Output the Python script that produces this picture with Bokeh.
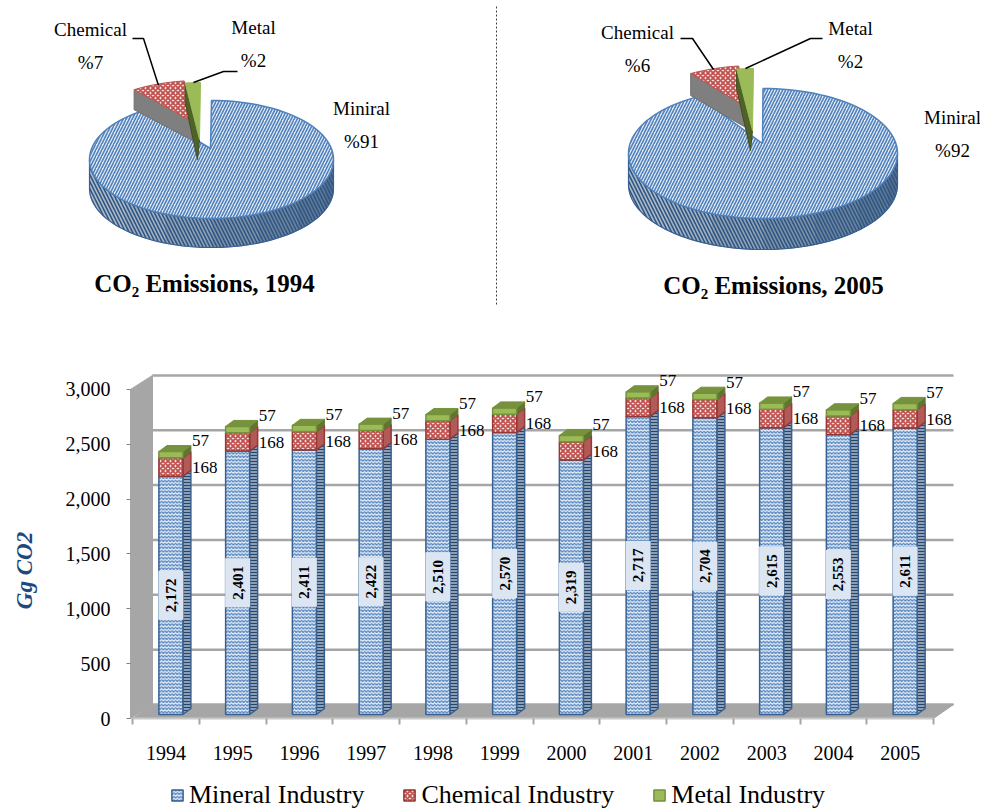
import numpy as np
from bokeh.plotting import figure
from bokeh.layouts import column, row
from bokeh.embed import file_html
from bokeh.resources import INLINE
from bokeh.core.properties import value
from bokeh.models import (Range1d, FixedTicker, NumeralTickFormatter, Legend, LegendItem, Label)

YEARS = [1994, 1995, 1996, 1997, 1998, 1999, 2000, 2001, 2002, 2003, 2004, 2005]
MINERAL = [2172, 2401, 2411, 2422, 2510, 2570, 2319, 2717, 2704, 2615, 2553, 2611]
CHEMICAL = [168, 168, 168, 168, 168, 168, 168, 168, 168, 168, 168, 168]
METAL = [57, 57, 57, 57, 57, 57, 57, 57, 57, 57, 57, 57]
Y_TICKS = [0, 500, 1000, 1500, 2000, 2500, 3000]
SERIES = ["Mineral Industry", "Chemical Industry", "Metal Industry"]
PIE_NAMES = ["Miniral", "Chemical", "Metal"]
PIE_1994 = [91, 7, 2]
PIE_2005 = [92, 6, 2]
TITLE_1994 = "CO\u2082 Emissions, 1994"
TITLE_2005 = "CO\u2082 Emissions, 2005"

SERIF = value("Liberation Serif")
BLUE_FILL, BLUE_HATCH, BLUE_LINE = "#e3ecf6", "#4f81bd", "#376092"
RED_FILL, RED_HATCH, RED_LINE = "#f6e3e2", "#c0504d", "#953735"
GREEN_FILL, GREEN_TOP, GREEN_SIDE = "#9bbb59", "#76923c", "#5f7530"

# ---------- pies ----------
top = figure(width=980, height=318, x_range=Range1d(0, 980), y_range=Range1d(318, 0),
             output_backend="svg", toolbar_location=None, min_border=0)
top.axis.visible = False
top.grid.visible = False
top.outline_line_color = None


def rim(g, t0, t1, n=60):
    t = np.radians(np.linspace(t0, t1, n))
    return g["cx"] + g["a"] * np.sin(t), g["cy"] - g["b"] * np.cos(t)


def poly(xs, ys, **kw):
    top.patch(list(xs), list(ys), **kw)


def pie(shares, g):
    a0 = shares[0] * 3.6
    a1 = a0 + shares[1] * 3.6
    a2 = a1 + shares[2] * 3.6
    # side band of the main slice, shaded from right (dark) to left (light)
    shades = ["#55708f", "#5f7996", "#6c849e", "#7d92a9", "#90a2b6", "#a3b2c2", "#aebbc9", "#aebbc9"]
    edges = np.linspace(90, 270, len(shades) + 1)
    for i, col in enumerate(shades):
        x, y = rim(g, edges[i], edges[i + 1], 16)
        poly(np.r_[x, x[::-1]], np.r_[y, y[::-1] + g["d"]], fill_color=col, line_color=col)
    x, y = rim(g, 90, 270)
    poly(np.r_[x, x[::-1]], np.r_[y, y[::-1] + g["d"]], fill_alpha=0, line_color=BLUE_LINE, line_width=1.2,
         hatch_pattern="left_diagonal_line", hatch_color="#2f5583", hatch_scale=7, hatch_weight=1.6)
    # main slice
    x, y = rim(g, 0, a0, 120)
    poly(np.r_[g["ax"], x], np.r_[g["ay"], y], fill_color=BLUE_FILL, line_color=BLUE_HATCH, line_width=1.5,
         hatch_pattern="right_diagonal_line", hatch_color=BLUE_HATCH, hatch_scale=6, hatch_weight=1.6)
    # chemical slice
    c = g["chem"]
    x, y = rim(c, a0, a1, 20)
    poly([x[0], x[0], c["ax"] + 2, c["ax"]], [y[0], y[0] + c["d"], c["ay"] + c["d"], c["ay"]],
         fill_color="#7f7f7f", line_color="#6f6f6f")
    poly(np.r_[c["ax"], x], np.r_[c["ay"], y], fill_color=RED_FILL, line_color=RED_HATCH,
         hatch_pattern="diagonal_cross", hatch_color=RED_HATCH, hatch_scale=5, hatch_weight=1.8)
    # metal slice
    m = g["metal"]
    x, y = rim(m, a1, a2, 8)
    poly([x[0], x[0], m["ax"] - 2, m["ax"]], [y[0], y[0] + m["d"], m["ay"] + m["d"], m["ay"]],
         fill_color="#4f6228", line_color="#3f4f20")
    poly(np.r_[m["ax"], x], np.r_[m["ay"], y], fill_color=GREEN_FILL, line_color=GREEN_FILL)


G94 = dict(cx=211, cy=159, a=122, b=59, d=29, ax=210, ay=148,
           chem=dict(cx=199, cy=139, a=122, b=59, d=20, ax=190, ay=120),
           metal=dict(cx=200, cy=141, a=122, b=59, d=20, ax=199, ay=139))
G05 = dict(cx=762.5, cy=153, a=134.5, b=65, d=31, ax=762, ay=143,
           chem=dict(cx=755, cy=130, a=134.5, b=65, d=22, ax=745, ay=106),
           metal=dict(cx=753, cy=133, a=134.5, b=65, d=20, ax=752, ay=130))
pie(PIE_1994, G94)
pie(PIE_2005, G05)

for xs, ys in [([132, 143, 158], [38, 38, 85]), ([237, 223, 193], [71, 71, 82]),
               ([680, 692, 713], [38, 38, 69]), ([822, 810, 745], [38, 38, 68])]:
    top.line(xs, ys, line_color="#000000", line_width=1.5)

top.segment([496], [6], [496], [306], line_color="#404040", line_width=1, line_dash="2 2")


def pie_labels(shares, xs, ys):
    for name, v, x, y in zip(PIE_NAMES, shares, xs, ys):
        top.text([x], [y], text=[name], text_font=SERIF, text_font_size="19px", text_align="center",
                 text_baseline="middle", text_color="#000000")
        top.text([x], [y + 33], text=[f"%{v}"], text_font=SERIF, text_font_size="19px", text_align="center",
                 text_baseline="middle", text_color="#000000")


pie_labels(PIE_1994, [361, 90, 253], [108, 29, 27])
pie_labels(PIE_2005, [952, 637, 850], [117, 32, 28])
for t, x, y in [(TITLE_1994, 204, 283), (TITLE_2005, 773, 285)]:
    top.text([x], [y], text=[t], text_font=SERIF, text_font_size="25px", text_font_style="bold",
             text_align="center", text_baseline="middle", text_color="#000000")

# ---------- stacked 3-D bars ----------
# the frame fills the whole figure; axes sit inside it through fixed_location
PX_X, PX_Y = 66.75, 0.1097
xl, xr = YEARS[0] - 0.5, YEARS[-1] + 0.5
x_start = xl - 132 / PX_X
y_end = 400 / PX_Y
p = figure(width=980, height=492, x_range=Range1d(x_start, x_start + 980 / PX_X),
           y_range=Range1d(-92 / PX_Y, y_end),
           output_backend="svg", toolbar_location=None, min_border=0)
p.grid.visible = False
p.outline_line_color = None

WX, WY = 20 / PX_X, 14 / PX_Y     # depth of the chart box
DX, DY = 8 / PX_X, 6 / PX_Y       # depth of a bar
W = 12 / PX_X                     # half width of a bar
BASE, SHIFT = 4 / PX_Y, 5 / PX_X
ymax = Y_TICKS[-1]
wall_x = xl - 2 / PX_X

p.patch([wall_x, xl + WX, xl + WX, wall_x], [0, WY, ymax + WY, ymax], fill_color="#a6a6a6", line_color="#a6a6a6")
p.segment([xl + WX] * 7, [t + WY for t in Y_TICKS], [xr + WX] * 7, [t + WY for t in Y_TICKS],
          line_color="#a6a6a6", line_width=2.5)
p.patch([xl, xl + WX, xr + WX, xr], [0, WY, WY, 0], fill_color="#a6a6a6", line_color="#a6a6a6")

cx = np.array(YEARS, dtype=float) + SHIFT
mineral_top = BASE + np.array(MINERAL, dtype=float)
chem_top = mineral_top + np.array(CHEMICAL)
metal_top = chem_top + np.array(METAL)
base = np.full(len(YEARS), BASE)


def side(b, t):
    return ([[c + W, c + W + DX, c + W + DX, c + W] for c in cx],
            [[bb, bb + DY, tt + DY, tt] for bb, tt in zip(b, t)])


sx, sy = side(base, mineral_top)
p.patches(sx, sy, fill_color="#8e9eb3", line_color=BLUE_LINE, line_width=1.5,
          hatch_pattern="horizontal_line", hatch_color="#24456e", hatch_scale=3, hatch_weight=1)
r_min = p.quad(left=cx - W, right=cx + W, bottom=base, top=mineral_top, fill_color=BLUE_FILL, line_color=BLUE_LINE,
               line_width=1.5, hatch_pattern="horizontal_wave", hatch_color=BLUE_HATCH, hatch_scale=3.5, hatch_weight=1.2)
sx, sy = side(mineral_top, chem_top)
p.patches(sx, sy, fill_color="#b25a58", line_color=RED_LINE, line_width=1.5)
r_che = p.quad(left=cx - W, right=cx + W, bottom=mineral_top, top=chem_top, fill_color=RED_FILL, line_color=RED_LINE,
               line_width=1.5, hatch_pattern="diagonal_cross", hatch_color=RED_HATCH, hatch_scale=5, hatch_weight=1.8)
sx, sy = side(chem_top, metal_top)
p.patches(sx, sy, fill_color=GREEN_SIDE, line_color=GREEN_SIDE)
r_met = p.quad(left=cx - W, right=cx + W, bottom=chem_top, top=metal_top, fill_color=GREEN_FILL, line_color=GREEN_TOP,
               line_width=1.5)
p.patches([[c - W, c - W + DX, c + W + DX, c + W] for c in cx],
          [[t, t + DY, t + DY, t] for t in metal_top], fill_color=GREEN_TOP, line_color=GREEN_TOP)

# data labels
p.rect(cx, base + np.array(MINERAL) / 2, width=25, height=49, width_units="screen", height_units="screen",
       fill_color="#dce6f2", line_color=None)
p.text(cx, base + np.array(MINERAL) / 2, text=[f"{v:,}" for v in MINERAL], angle=np.pi / 2, text_font=SERIF,
       text_font_size="15px", text_font_style="bold", text_align="center", text_baseline="middle", text_color="#000000")
label_x = cx + W + 9 / PX_X
p.text(label_x, mineral_top + 9 / PX_Y, text=[str(v) for v in CHEMICAL], text_font=SERIF, text_font_size="17px",
       text_align="left", text_baseline="middle", text_color="#000000")
p.text(label_x, metal_top + 11 / PX_Y, text=[str(v) for v in METAL], text_font=SERIF, text_font_size="17px",
       text_align="left", text_baseline="middle", text_color="#000000")

# axes
xa, ya = p.xaxis[0], p.yaxis[0]
xa.fixed_location = 0
xa.ticker = FixedTicker(ticks=YEARS, minor_ticks=[y - 0.5 for y in YEARS] + [YEARS[-1] + 0.5])
xa.formatter = NumeralTickFormatter(format="0")
xa.bounds = (xl, xr)
xa.major_tick_out, xa.major_tick_in = 0, 0
xa.minor_tick_out, xa.minor_tick_in = 6, 0
xa.minor_tick_line_color = "#a6a6a6"
xa.minor_tick_line_width = 2
xa.axis_line_color = "#c8c8c8"
xa.axis_line_width = 2
xa.major_label_standoff = 21
xa.major_label_text_font = "Liberation Serif"
xa.major_label_text_font_size = "20px"
xa.major_label_text_color = "#000000"

ya.fixed_location = wall_x
ya.bounds = (0, ymax)
ya.ticker = FixedTicker(ticks=Y_TICKS)
ya.formatter = NumeralTickFormatter(format="0,0")
ya.axis_line_color = None
ya.major_tick_out, ya.major_tick_in = 4, 0
ya.minor_tick_line_color = None
ya.major_tick_line_color = "#808080"
ya.major_label_standoff = 16
ya.major_label_text_font = "Liberation Serif"
ya.major_label_text_font_size = "20px"
ya.major_label_text_color = "#000000"

p.add_layout(Label(x=wall_x, y=1349, x_offset=-106, text="Gg CO2", angle=np.pi / 2, text_font="Liberation Serif",
                   text_font_size="23px", text_font_style="bold italic", text_color="#1f497d",
                   text_align="center", text_baseline="middle"))

legend = Legend(items=[LegendItem(label=s, renderers=[r]) for s, r in zip(SERIES, [r_min, r_che, r_met])],
                orientation="horizontal", location=(170, 0), background_fill_alpha=0, border_line_color=None,
                label_text_font="Liberation Serif", label_text_font_size="26px", label_text_color="#000000",
                glyph_width=14, glyph_height=14, label_standoff=5, spacing=38, margin=0, padding=0)
p.add_layout(legend, "center")

page = column(row(top), row(p), spacing=0)
open("out.html", "w").write(file_html(page, INLINE))
